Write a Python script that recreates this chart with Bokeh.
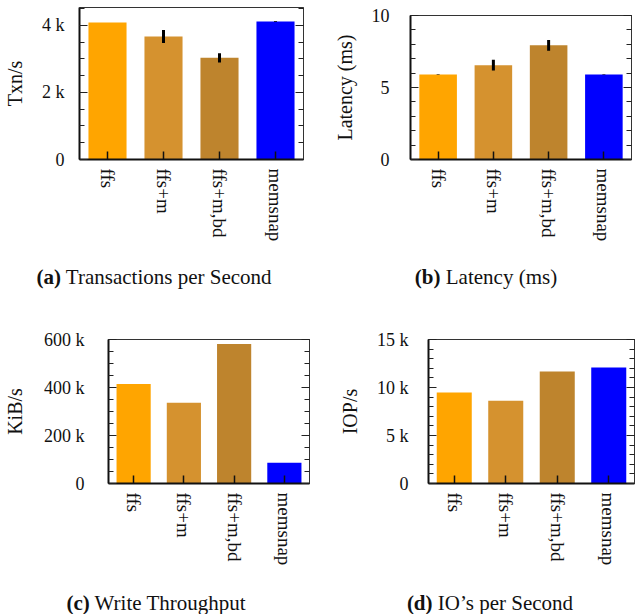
import math
from bokeh.plotting import figure
from bokeh.models import FixedTicker, LinearAxis, Range1d, FactorRange, CustomJSTickFormatter, Div
from bokeh.layouts import column, row
from bokeh.embed import file_html
from bokeh.resources import INLINE

# ---------------- data ----------------
configs = ["ffs", "ffs+m", "ffs+m,bd", "memsnap"]
bar_colors = ["#FFA500", "#D5922F", "#BE842D", "#0000FF"]

txn_mean = [4080, 3665, 3030, 4110]
txn_err = [0, 195, 140, 10]

lat_mean = [5.9, 6.55, 7.93, 5.9]
lat_err = [0.02, 0.37, 0.37, 0.02]

kib_mean = [415000, 336000, 581000, 86000]

iops_mean = [9470, 8630, 11670, 12080]

txn_ticks = [0, 2000, 4000]
txn_tick_labels = ["0", "2 k", "4 k"]
txn_minor = [0, 500, 1000, 1500, 2000, 2500, 3000, 3500, 4000, 4500]

lat_ticks = [0, 5, 10]
lat_tick_labels = ["0", "5", "10"]
lat_minor = [0, 1, 2, 3, 4, 5, 6, 7, 8, 9, 10]

kib_ticks = [0, 200000, 400000, 600000]
kib_tick_labels = ["0", "200 k", "400 k", "600 k"]
kib_minor = [0, 50000, 100000, 150000, 200000, 250000, 300000, 350000,
             400000, 450000, 500000, 550000, 600000]

iops_ticks = [0, 5000, 10000, 15000]
iops_tick_labels = ["0", "5 k", "10 k", "15 k"]
iops_minor = [0, 1000, 2000, 3000, 4000, 5000, 6000, 7000, 8000, 9000, 10000,
              11000, 12000, 13000, 14000, 15000]

captions = [("(a)", "Transactions per Second"),
            ("(b)", "Latency (ms)"),
            ("(c)", "Write Throughput"),
            ("(d)", "IO\u2019s per Second")]

FONT = "Liberation Serif"


def make_panel(values, errs, y_end, ticks, tick_labels, minor, ylabel,
               width, height, borders, lab_standoff, axlab_standoff):
    bl, br, bt, bb = borders
    p = figure(x_range=FactorRange(*configs, range_padding=0),
               y_range=Range1d(0, y_end),
               width=width, height=height, output_backend="svg",
               toolbar_location=None,
               min_border_left=bl, min_border_right=br,
               min_border_top=bt, min_border_bottom=bb)
    p.background_fill_color = "white"
    p.border_fill_color = "white"
    p.outline_line_color = "#333333"
    p.outline_line_width = 1
    p.xgrid.visible = False
    p.ygrid.visible = False

    p.vbar(x=configs, top=values, width=0.68, fill_color=bar_colors, line_color=None)
    if errs is not None:
        lo = [v - e for v, e in zip(values, errs)]
        hi = [v + e for v, e in zip(values, errs)]
        p.segment(x0=configs, y0=lo, x1=configs, y1=hi, line_color="black", line_width=3)

    ticker = FixedTicker(ticks=ticks, minor_ticks=minor)
    overrides = {t: l for t, l in zip(ticks, tick_labels)}

    ya = p.yaxis[0]
    ya.ticker = ticker
    ya.major_label_overrides = overrides
    ya.axis_line_width = 2
    ya.axis_line_color = "#111111"
    ya.major_tick_in = 8
    ya.major_tick_out = 0
    ya.minor_tick_in = 5
    ya.minor_tick_out = 0
    ya.major_tick_line_color = "#222222"
    ya.minor_tick_line_color = "#222222"
    ya.major_label_standoff = lab_standoff
    ya.major_label_text_font = FONT
    ya.major_label_text_font_size = "18px"
    ya.major_label_text_color = "#111111"
    ya.axis_label = ylabel
    ya.axis_label_text_font = FONT
    ya.axis_label_text_font_size = "20px"
    ya.axis_label_text_font_style = "normal"
    ya.axis_label_text_color = "#111111"
    ya.axis_label_standoff = axlab_standoff

    ra = LinearAxis(ticker=ticker, formatter=CustomJSTickFormatter(code="return ''"),
                    major_label_standoff=0, axis_line_width=1, axis_line_color="#333333",
                    major_tick_in=8, major_tick_out=0, minor_tick_in=5, minor_tick_out=0,
                    major_tick_line_color="#222222", minor_tick_line_color="#222222")
    p.add_layout(ra, "right")

    xa = p.xaxis[0]
    xa.axis_line_width = 2
    xa.axis_line_color = "#111111"
    xa.major_tick_in = 8
    xa.major_tick_out = 0
    xa.major_tick_line_color = "#111111"
    xa.major_tick_line_width = 1.5
    xa.major_label_orientation = -math.pi / 2
    xa.major_label_standoff = 9
    xa.major_label_text_font = FONT
    xa.major_label_text_font_size = "19px"
    xa.major_label_text_color = "#111111"
    return p


def make_caption(tag, text, width, height, line_h, left):
    html = ('<div style="font-family:\'Liberation Serif\', serif; font-size:21px; '
            'color:#111111; text-align:center; width:280px; margin-left:%dpx; '
            'line-height:%dpx; white-space:nowrap;">'
            '<b style="font-family:\'Liberation Serif\', serif;">%s</b> '
            '<span style="font-family:\'Liberation Serif\', serif;">%s</span></div>'
            % (left, line_h, tag, text))
    return Div(text=html, width=width, height=height, margin=0,
               styles={"font-family": "'Liberation Serif', serif",
                       "font-size": "21px", "color": "#111111"})


pa = make_panel(txn_mean, txn_err, 4530, txn_ticks, txn_tick_labels, txn_minor,
                "Txn/s", 320, 262, (78, 17, 7, 103), 15, 13)
pb = make_panel(lat_mean, lat_err, 10, lat_ticks, lat_tick_labels, lat_minor,
                "Latency (ms)", 315, 262, (90, 4, 15, 103), 21, 13)
pc = make_panel(kib_mean, None, 600000, kib_ticks, kib_tick_labels, kib_minor,
                "KiB/s", 320, 278, (106, 11, 29, 105), 24, 15)
pd_ = make_panel(iops_mean, None, 15000, iops_ticks, iops_tick_labels, iops_minor,
                 "IOP/s", 315, 278, (108, 1, 29, 105), 20, 13)

ca = make_caption(captions[0][0], captions[0][1], 320, 48, 28, 14)
cb = make_caption(captions[1][0], captions[1][1], 315, 48, 28, 26)
cc = make_caption(captions[2][0], captions[2][1], 320, 26, 26, 16)
cd = make_caption(captions[3][0], captions[3][1], 315, 26, 26, 30)

layout = column(row(column(pa, ca), column(pb, cb)),
                row(column(pc, cc), column(pd_, cd)))

open("out.html", "w").write(file_html(layout, INLINE))
